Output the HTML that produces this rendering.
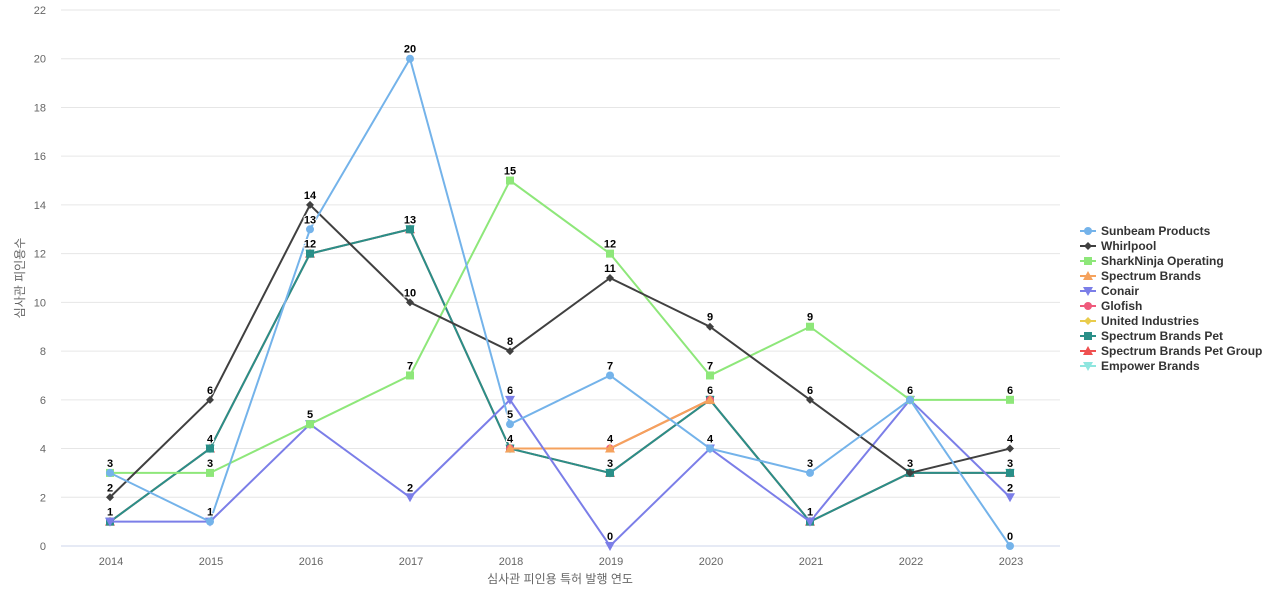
<!DOCTYPE html>
<html><head><meta charset="utf-8">
<style>
html,body{margin:0;padding:0;background:#fff;width:1280px;height:600px;overflow:hidden;font-family:"Liberation Sans","Noto Sans CJK KR",sans-serif;}
svg text{font-family:"Liberation Sans","Noto Sans CJK KR",sans-serif;}
</style></head><body>
<svg id="chart" width="1280" height="600" xmlns="http://www.w3.org/2000/svg">
<g id="grid"></g>
<g id="series"></g>
<g id="labels"></g>
<g id="legend"></g>
<text x="24" y="278" font-size="12" fill="#666" text-anchor="middle" transform="rotate(-90 24 278)">심사관 피인용수</text>
<text x="560" y="583" font-size="12" fill="#666" text-anchor="middle">심사관 피인용 특허 발행 연도</text>
</svg>
<script>
const years = [2014,2015,2016,2017,2018,2019,2020,2021,2022,2023];
const yTicks = [0,2,4,6,8,10,12,14,16,18,20,22];
const names = ["Sunbeam Products","Whirlpool","SharkNinja Operating","Spectrum Brands","Conair","Glofish","United Industries","Spectrum Brands Pet","Spectrum Brands Pet Group","Empower Brands"];
const colors = ["#74b3ea","#404040","#8ee77a","#f5a25d","#7b7ee8","#ef5a7c","#e9cc4c","#2a8f88","#ef5050","#8ee6df"];
const markers = ["circle","diamond","square","triangle","triangle-down","circle","diamond","square","triangle","triangle-down"];
const sunbeam = [3,1,13,20,5,7,4,3,6,0];
const whirlpool = [2,6,14,10,8,11,9,6,3,4];
const sharkninja = [3,3,5,7,15,12,7,9,6,6];
const spectrumBrands = [null,null,null,null,4,4,6,null,null,null];
const conair = [1,1,5,2,6,0,4,1,6,2];
const glofish = [null,null,null,null,4,4,6,null,null,null];
const unitedIndustries = [null,null,null,null,4,4,6,null,null,null];
const spectrumPet = [1,4,12,13,4,3,6,1,3,3];
const spectrumPetGroup = [1,4,12,13,4,3,6,1,3,3];
const empower = [1,4,12,13,4,3,6,1,3,3];
const seriesData = [sunbeam,whirlpool,sharkninja,spectrumBrands,conair,glofish,unitedIndustries,spectrumPet,spectrumPetGroup,empower];

const NS="http://www.w3.org/2000/svg";
const X0=110,XSTEP=100,Y0=546,YTOP=10,YMAX=22;
function xs(i){return X0+i*XSTEP;}
function ys(v){return Y0-(v/YMAX)*(Y0-YTOP);}
function mk(tag,attrs,parent){const e=document.createElementNS(NS,tag);for(const k in attrs)e.setAttribute(k,attrs[k]);parent.appendChild(e);return e;}
function marker(type,x,y,c,parent){
  let e;
  if(type==="circle")e=mk("circle",{cx:x,cy:y,r:4,fill:c},parent);
  else if(type==="square")e=mk("rect",{x:x-4,y:y-4,width:8,height:8,fill:c},parent);
  else if(type==="diamond")e=mk("polygon",{points:`${x},${y-4} ${x+4},${y} ${x},${y+4} ${x-4},${y}`,fill:c},parent);
  else if(type==="triangle")e=mk("polygon",{points:`${x},${y-5} ${x+5},${y+4} ${x-5},${y+4}`,fill:c},parent);
  else e=mk("polygon",{points:`${x-5},${y-4} ${x+5},${y-4} ${x},${y+5}`,fill:c},parent);
  return e;
}
const grid=document.getElementById("grid");
yTicks.forEach(t=>{
  const l=mk("line",{x1:61,x2:1060,y1:ys(t),y2:ys(t),stroke:t===0?"#ccd6eb":"#e6e6e6","stroke-width":1},grid);
  
  
  const tx=mk("text",{x:46,y:ys(t)+4,"font-size":11,fill:"#666","text-anchor":"end"},grid);
  tx.textContent=t;
  
  
});
years.forEach((yr,i)=>{
  const tx=mk("text",{x:xs(i)+1,y:565,"font-size":11,fill:"#666","text-anchor":"middle"},grid);
  tx.textContent=yr;
  
  
});
const sg=document.getElementById("series"),lg=document.getElementById("labels"),leg=document.getElementById("legend");
const order=[9,8,7,6,5,3,4,2,1,0];
order.forEach(s=>{
  const d=seriesData[s],c=colors[s];
  const g=mk("g",{},sg);
  
  
  let path="",pen=false;
  d.forEach((v,i)=>{if(v===null){pen=false;return;}path+=(pen?"L":"M")+xs(i)+" "+ys(v)+" ";pen=true;});
  const p=mk("path",{d:path,fill:"none",stroke:c,"stroke-width":2},g);
  
  
  d.forEach((v,i)=>{if(v===null)return;
    const m=marker(markers[s],xs(i),ys(v),c,g);
    
    
    const t=mk("text",{x:xs(i),y:ys(v)-6,"font-size":11,"font-weight":"bold",fill:"#000","text-anchor":"middle",stroke:"#fff","stroke-width":2,"paint-order":"stroke"},lg);
    t.textContent=v;
    
    
  });
});
names.forEach((n,s)=>{
  const y=231+s*15,g=mk("g",{},leg);
  
  
  mk("line",{x1:1080,x2:1096,y1:y,y2:y,stroke:colors[s],"stroke-width":2},g);
  marker(markers[s],1088,y,colors[s],g);
  const t=mk("text",{x:1101,y:y+4,"font-size":12,"font-weight":"bold",fill:"#333"},g);
  t.textContent=n;
});
</script>
</body></html>
